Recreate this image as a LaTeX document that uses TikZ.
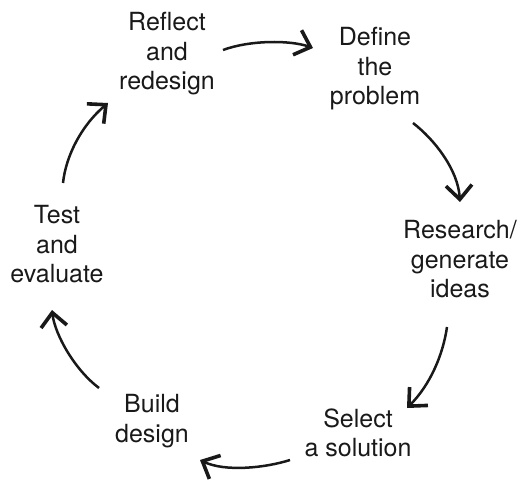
\documentclass[tikz,border=0pt]{standalone}
\usepackage{fontspec}
\setmainfont{TeX Gyre Heros}
\usetikzlibrary{arrows.meta}
\begin{document}
\begin{tikzpicture}[x=1pt,y=-1pt,
  lbl/.style={align=center,inner sep=0pt,font=\fontsize{25}{29.5}\selectfont,text=black!90},
  arr/.style={line width=2.5pt,draw=black!90,-{Straight Barb[length=14pt,width=26pt,line width=3.6pt]}}]
\useasboundingbox (0,0) rectangle (525,481);
\node[lbl] (reflect) at (167,54) {Reflect\\and\\redesign};
\node[lbl] (define) at (375,69) {Define\\the\\problem};
\node[lbl] (research) at (460,259.5) {Research/\\generate\\ideas};
\node[lbl] (select) at (358,433) {Select\\a solution};
\node[lbl] (build) at (152,421) {Build\\design};
\node[lbl] (test) at (57,244.5) {Test\\and\\evaluate};
\coordinate (a1s) at (223,50);  \coordinate (a1e) at (313,48);
\coordinate (a2s) at (413,123); \coordinate (a2e) at (460,202);
\coordinate (a3s) at (447,327); \coordinate (a3e) at (407,408);
\coordinate (a4s) at (290,460); \coordinate (a4e) at (200,460);
\coordinate (a5s) at (99,388);  \coordinate (a5e) at (52,310);
\coordinate (a6s) at (63,183);  \coordinate (a6e) at (108,103);
\draw[arr] (a1s) .. controls (250,40) and (290,40) .. (a1e);
\draw[arr] (a2s) .. controls (435,140) and (458,170) .. (a2e);
\draw[arr] (a3s) .. controls (443,355) and (430,385) .. (a3e);
\draw[arr] (a4s) .. controls (265,468) and (225,472) .. (a4e);
\draw[arr] (a5s) .. controls (75,370) and (55,335) .. (a5e);
\draw[arr] (a6s) .. controls (66,155) and (82,125) .. (a6e);
\end{tikzpicture}
\end{document}
